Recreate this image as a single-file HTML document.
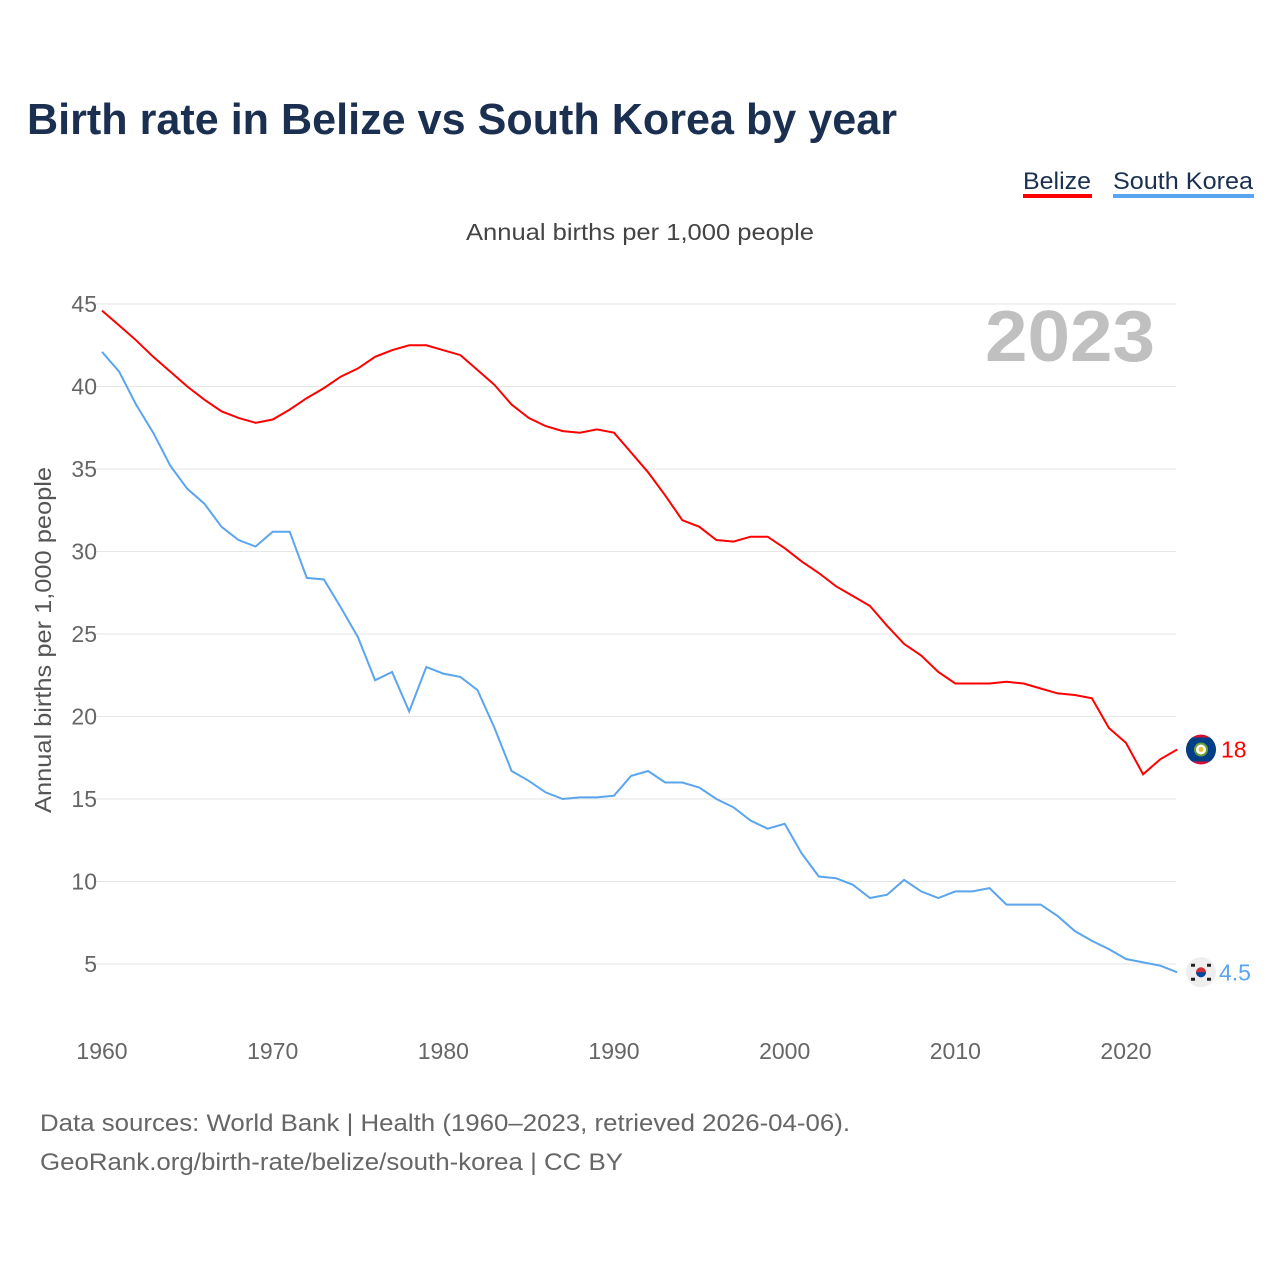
<!DOCTYPE html>
<html><head><meta charset="utf-8"><style>
html,body{margin:0;padding:0;background:#fff;}
svg{display:block;font-family:"Liberation Sans",sans-serif;}
</style></head><body>
<svg id="chart" width="1280" height="1280" viewBox="0 0 1280 1280">
<defs><clipPath id="c1"><circle cx="1201" cy="747" r="15"/></clipPath></defs>
<text x="27" y="134" font-size="44" font-weight="bold" fill="#1b3050" textLength="870" lengthAdjust="spacingAndGlyphs">Birth rate in Belize vs South Korea by year</text>
<g>
<text x="1023" y="189" font-size="24" fill="#1b3050" textLength="68" lengthAdjust="spacingAndGlyphs">Belize</text>
<rect x="1023" y="194" width="69" height="4" fill="#ff0000"/>
<text x="1113" y="189" font-size="24" fill="#1b3050" textLength="140" lengthAdjust="spacingAndGlyphs">South Korea</text>
<rect x="1113" y="194" width="141" height="4" fill="#5aa5ee"/>
</g>
<text x="466" y="240" font-size="23" fill="#444" textLength="348" lengthAdjust="spacingAndGlyphs">Annual births per 1,000 people</text>
<text x="985" y="361" font-size="72" font-weight="bold" fill="#c0c0c0" textLength="170" lengthAdjust="spacingAndGlyphs">2023</text>
<text transform="translate(51,640) rotate(-90)" font-size="23" fill="#555" text-anchor="middle" textLength="346" lengthAdjust="spacingAndGlyphs">Annual births per 1,000 people</text>
<g id="grid"></g><g id="yt"></g><g id="xt"></g><g id="lines"></g>
<text x="40" y="1131" font-size="24" fill="#666" textLength="810" lengthAdjust="spacingAndGlyphs">Data sources: World Bank | Health (1960–2023, retrieved 2026-04-06).</text>
<text x="40" y="1170" font-size="24" fill="#666" textLength="583" lengthAdjust="spacingAndGlyphs">GeoRank.org/birth-rate/belize/south-korea | CC BY</text>
</svg>
<script>
const years=[];for(let y=1960;y<=2023;y++)years.push(y);
const belize=[44.6,43.7,42.8,41.8,40.9,40.0,39.2,38.5,38.1,37.8,38.0,38.6,39.3,39.9,40.6,41.1,41.8,42.2,42.5,42.5,42.2,41.9,41.0,40.1,38.9,38.1,37.6,37.3,37.2,37.4,37.2,36.0,34.8,33.4,31.9,31.5,30.7,30.6,30.9,30.9,30.2,29.4,28.7,27.9,27.3,26.7,25.5,24.4,23.7,22.7,22.0,22.0,22.0,22.1,22.0,21.7,21.4,21.3,21.1,19.3,18.4,16.5,17.4,18.0];
const korea=[42.1,40.9,38.9,37.2,35.2,33.8,32.9,31.5,30.7,30.3,31.2,31.2,28.4,28.3,26.6,24.8,22.2,22.7,20.3,23.0,22.6,22.4,21.6,19.3,16.7,16.1,15.4,15.0,15.1,15.1,15.2,16.4,16.7,16.0,16.0,15.7,15.0,14.5,13.7,13.2,13.5,11.7,10.3,10.2,9.8,9.0,9.2,10.1,9.4,9.0,9.4,9.4,9.6,8.6,8.6,8.6,7.9,7.0,6.4,5.9,5.3,5.1,4.9,4.5];
const yTicks=[5,10,15,20,25,30,35,40,45];
const xTicks=[1960,1970,1980,1990,2000,2010,2020];
const endLabels=["18","4.5"];
const NS="http://www.w3.org/2000/svg";
const X=y=>102+(y-1960)*(1024/60);
const Y=v=>964-(v-5)*16.5;
function mk(tag,attrs,parent,text){const e=document.createElementNS(NS,tag);for(const k in attrs)e.setAttribute(k,attrs[k]);if(text!=null)e.textContent=text;parent.appendChild(e);return e;}
const grid=document.getElementById('grid'),yt=document.getElementById('yt'),xt=document.getElementById('xt'),lines=document.getElementById('lines');
yTicks.forEach(v=>{
 const l=mk('line',{x1:95,x2:1176,y1:Y(v),y2:Y(v),stroke:'#e6e6e6','stroke-width':1},grid);
 
 
 const t=mk('text',{x:97,y:Y(v)+8,'font-size':23,fill:'#666','text-anchor':'end'},yt,String(v));
 
 
});
xTicks.forEach(v=>{
 const t=mk('text',{x:X(v),y:1059,'font-size':23,fill:'#666','text-anchor':'middle'},xt,String(v));
 
 
});
function series(vals,color,name){
 const d=vals.map((v,i)=>(i?'L':'M')+X(years[i]).toFixed(1)+','+Y(v).toFixed(1)).join('');
 const p=mk('path',{d:d,fill:'none',stroke:color,'stroke-width':2},lines);
 
 
}
series(belize,'#ff0000','belize');
series(korea,'#5aa5ee','south-korea');
const bx=1201,by=Y(belize[belize.length-1]);
document.querySelector('#c1 circle').setAttribute('cy',by);
const g1=mk('g',{'clip-path':'url(#c1)'},lines);


mk('circle',{cx:bx,cy:by,r:15,fill:'#d21034'},g1);
mk('rect',{x:bx-15,y:by-12,width:30,height:24,fill:'#003f87'},g1);
mk('circle',{cx:bx,cy:by,r:6,fill:'#fff',stroke:'#6a9a3a','stroke-width':2},g1);
mk('circle',{cx:bx,cy:by,r:2.5,fill:'#e8c030'},g1);
const t1=mk('text',{x:1221,y:by+8,'font-size':23,fill:'#ff0000'},lines,endLabels[0]);


const kx=1201,ky=Y(korea[korea.length-1]);
const g2=mk('g',{},lines);


mk('circle',{cx:kx,cy:ky,r:15,fill:'#eee'},g2);
mk('circle',{cx:kx,cy:ky,r:5,fill:'#cd2e3a'},g2);
mk('path',{d:`M${kx-5},${ky} A5,5 0 0 0 ${kx+5},${ky} Z`,fill:'#0047a0'},g2);
[[-8,-7],[8,-7],[-8,7],[8,7]].forEach(o=>mk('rect',{x:kx+o[0]-2,y:ky+o[1]-1.5,width:4,height:3,fill:'#222'},g2));
const t2=mk('text',{x:1219,y:ky+8,'font-size':23,fill:'#5aa5ee'},lines,endLabels[1]);


</script>
</body></html>
